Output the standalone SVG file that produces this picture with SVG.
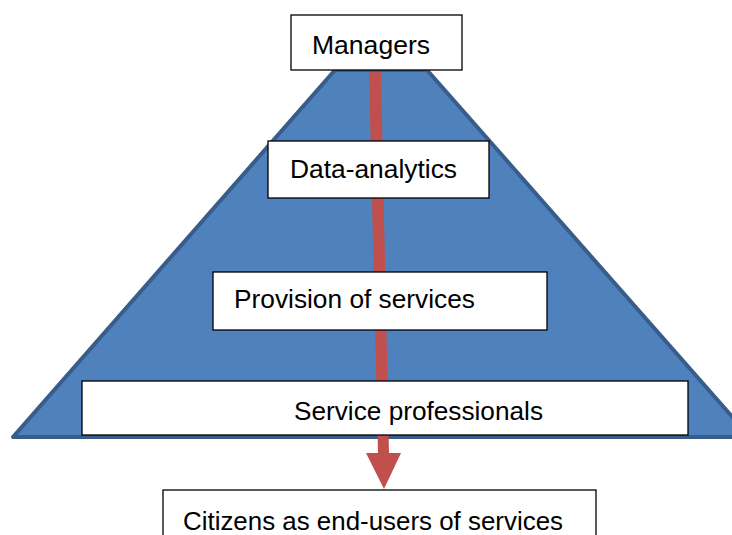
<svg xmlns="http://www.w3.org/2000/svg" width="732" height="535" viewBox="0 0 732 535">
<style>
.box{fill:#fff;stroke:#000;stroke-width:1.3}
.lbl{font-family:"Liberation Sans",Arial,sans-serif;font-size:25px;fill:#000}
</style>
<rect width="732" height="535" fill="#fff"/>
<g id="pyramid">
<polygon points="335,70 427,70 750,437 13,437" fill="#4F81BD" stroke="#385D8A" stroke-width="4" stroke-linejoin="round"/>
</g>
<g id="connectors">
<polygon points="369,72 381,72 389,453 401,453 384,489 366,453 378,453" fill="#C0504D"/>
</g>
<g id="managers">
<rect class="box" x="291" y="15" width="171" height="55"/>
<text class="lbl" x="312" y="54" textLength="118" lengthAdjust="spacingAndGlyphs">Managers</text>
</g>
<g id="data-analytics">
<rect class="box" x="268" y="141" width="221" height="57"/>
<text class="lbl" x="290" y="178" textLength="167" lengthAdjust="spacingAndGlyphs">Data-analytics</text>
</g>
<g id="provision">
<rect class="box" x="213" y="272" width="334" height="58"/>
<text class="lbl" x="234" y="308" textLength="241" lengthAdjust="spacingAndGlyphs">Provision of services</text>
</g>
<g id="service-professionals">
<rect class="box" x="82" y="381" width="606" height="54"/>
<text class="lbl" x="294" y="420" textLength="249" lengthAdjust="spacingAndGlyphs">Service professionals</text>
</g>
<g id="citizens">
<rect class="box" x="163" y="490" width="433" height="60"/>
<text class="lbl" x="183" y="530" textLength="380" lengthAdjust="spacingAndGlyphs">Citizens as end-users of services</text>
</g>
</svg>
